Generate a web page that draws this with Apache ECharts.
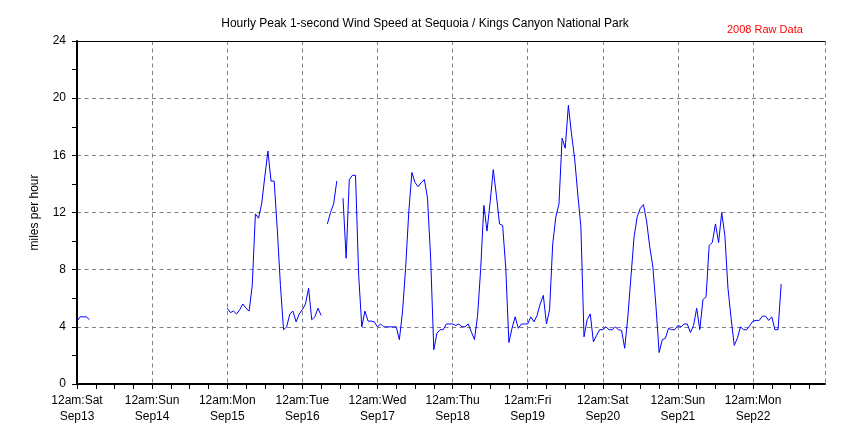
<!DOCTYPE html>
<html>
<head>
<meta charset="utf-8">
<script src="https://cdn.jsdelivr.net/npm/echarts@6/dist/echarts.min.js"></script>
<style>
html,body{margin:0;padding:0;background:#fff;}
#chart{width:850px;height:425px;}
</style>
</head>
<body>
<div id="chart"></div>
<script>
// Hours since 12am Sat Sep13; hourly peak 1-second wind speed (mph)
const dayNames = ['Sat','Sun','Mon','Tue','Wed','Thu','Fri','Sat','Sun','Mon'];
const dayDates = ['Sep13','Sep14','Sep15','Sep16','Sep17','Sep18','Sep19','Sep20','Sep21','Sep22'];
const yTicks = [0,4,8,12,16,20,24];

const segStarts = [0, 48, 80, 85];
const segA = [4.4,4.7,4.7,4.7,4.5];
const segB = [5.3,5.0,5.1,4.9,5.2,5.6,5.3,5.1,6.9,11.9,11.6,12.6,14.5,16.3,14.2,14.2,10.8,6.9,3.8,4.0,
              4.9,5.1,4.35,4.9,5.2,5.6,6.7,4.5,4.7,5.3,4.8];
const segC = [11.2,12.0,12.6,14.2];
const segD = [13.0,8.8,14.3,14.6,14.6,7.6,4.0,5.1,4.4,4.4,4.35,4.0,4.2,4.0,4.0,4.0,4.0,4.0,3.1,5.05,
              8.1,12.0,14.8,14.1,13.8,14.1,14.3,13.0,8.8,2.4,3.55,3.8,3.8,4.2,4.2,4.2,4.1,4.2,4.0,4.0,
              4.2,3.65,3.1,4.8,8.1,12.5,10.7,12.7,15.0,13.2,11.2,11.1,8.1,2.9,3.9,4.7,3.9,4.2,4.2,4.2,
              4.7,4.35,4.8,5.6,6.2,4.2,5.2,9.8,11.7,12.6,17.2,16.5,19.5,17.5,15.8,13.3,11.0,3.3,4.5,4.9,
              2.95,3.4,3.8,3.8,4.0,3.8,3.8,4.0,3.8,3.75,2.5,4.7,7.5,10.3,11.7,12.3,12.55,11.4,9.6,8.2,
              5.4,2.2,3.1,3.2,3.9,3.8,3.8,4.1,4.0,4.2,4.2,3.6,4.1,5.3,3.8,5.9,6.1,9.7,9.9,11.2,
              9.9,12.0,10.4,6.7,4.6,2.7,3.2,4.0,3.8,3.8,4.1,4.4,4.45,4.45,4.75,4.75,4.45,4.7,3.8,3.8,
              7.0];
const segments = [segA, segB, segC, segD];
const totalHours = 240;

// build hourly series with gaps
const speed = new Array(totalHours).fill(null);
segments.forEach((seg, i) => seg.forEach((v, j) => { speed[segStarts[i] + j] = v; }));
const seriesData = speed.map((v, h) => [h, v]);

const FONT = "'Liberation Sans', Arial, sans-serif";
const chart = echarts.init(document.getElementById('chart'), null, {renderer: 'canvas'});
chart.setOption({
  animation: false,
  backgroundColor: '#fff',
  textStyle: {fontFamily: FONT},
  title: [
    {text: 'Hourly Peak 1-second Wind Speed at Sequoia / Kings Canyon National Park',
     left: 'center', top: 13,
     textStyle: {fontFamily: FONT, fontSize: 12, fontWeight: 'normal', color: '#000'}},
    {text: '2008 Raw Data', left: 722, top: 19,
     textStyle: {fontFamily: FONT, fontSize: 11, fontWeight: 'normal', color: '#ff0000'}}
  ],
  grid: {left: 77, right: 25, top: 41, bottom: 40, show: false},
  xAxis: [
    {
      type: 'value', min: 0, max: totalHours - 1, interval: 6,
      axisLine: {show: true, lineStyle: {color: '#000', width: 2}},
      axisTick: {show: true, length: 5, lineStyle: {color: '#000', width: 1}},
      axisLabel: {
        show: true, margin: 9, color: '#000', fontSize: 12, fontFamily: FONT, lineHeight: 16,
        showMaxLabel: false,
        formatter: v => (v % 24 === 0 && v / 24 < dayNames.length) ? ('12am:' + dayNames[v/24] + '\n' + dayDates[v/24]) : ''
      },
      splitLine: {show: false}
    },
    {
      type: 'value', min: 0, max: totalHours - 1, interval: 24, position: 'bottom',
      axisLine: {show: false}, axisTick: {show: false}, axisLabel: {show: false},
      splitLine: {show: true, lineStyle: {color: '#808080', type: [4, 3.5], width: 1}}
    },
    {
      type: 'value', min: 0, max: totalHours - 1, position: 'top',
      axisLine: {show: true, lineStyle: {color: '#000', width: 1}},
      axisTick: {show: false}, axisLabel: {show: false}, splitLine: {show: false}
    }
  ],
  yAxis: [
    {
      type: 'value', min: yTicks[0], max: yTicks[yTicks.length-1], interval: 4,
      name: 'miles per hour', nameLocation: 'middle', nameGap: 36, nameRotate: 90,
      nameTextStyle: {fontFamily: FONT, fontSize: 12, color: '#000'},
      axisLine: {show: true, lineStyle: {color: '#000', width: 2}},
      axisTick: {show: true, length: 5, lineStyle: {color: '#000'}},
      minorTick: {show: true, splitNumber: 2, length: 5, lineStyle: {color: '#000'}},
      axisLabel: {margin: 11, color: '#000', fontSize: 12, fontFamily: FONT},
      splitLine: {show: true, lineStyle: {color: '#808080', type: [4, 3.5], width: 1}}
    },
    {
      type: 'value', min: 0, max: 24, position: 'right',
      axisLine: {show: true, lineStyle: {color: '#000', width: 1}},
      axisTick: {show: false}, axisLabel: {show: false}, splitLine: {show: false}
    }
  ],
  series: [{
    type: 'line', xAxisIndex: 0, yAxisIndex: 0,
    data: seriesData, showSymbol: false, connectNulls: false,
    lineStyle: {color: '#0000ff', width: 1}, itemStyle: {color: '#0000ff'}
  }]
});
</script>
</body>
</html>
